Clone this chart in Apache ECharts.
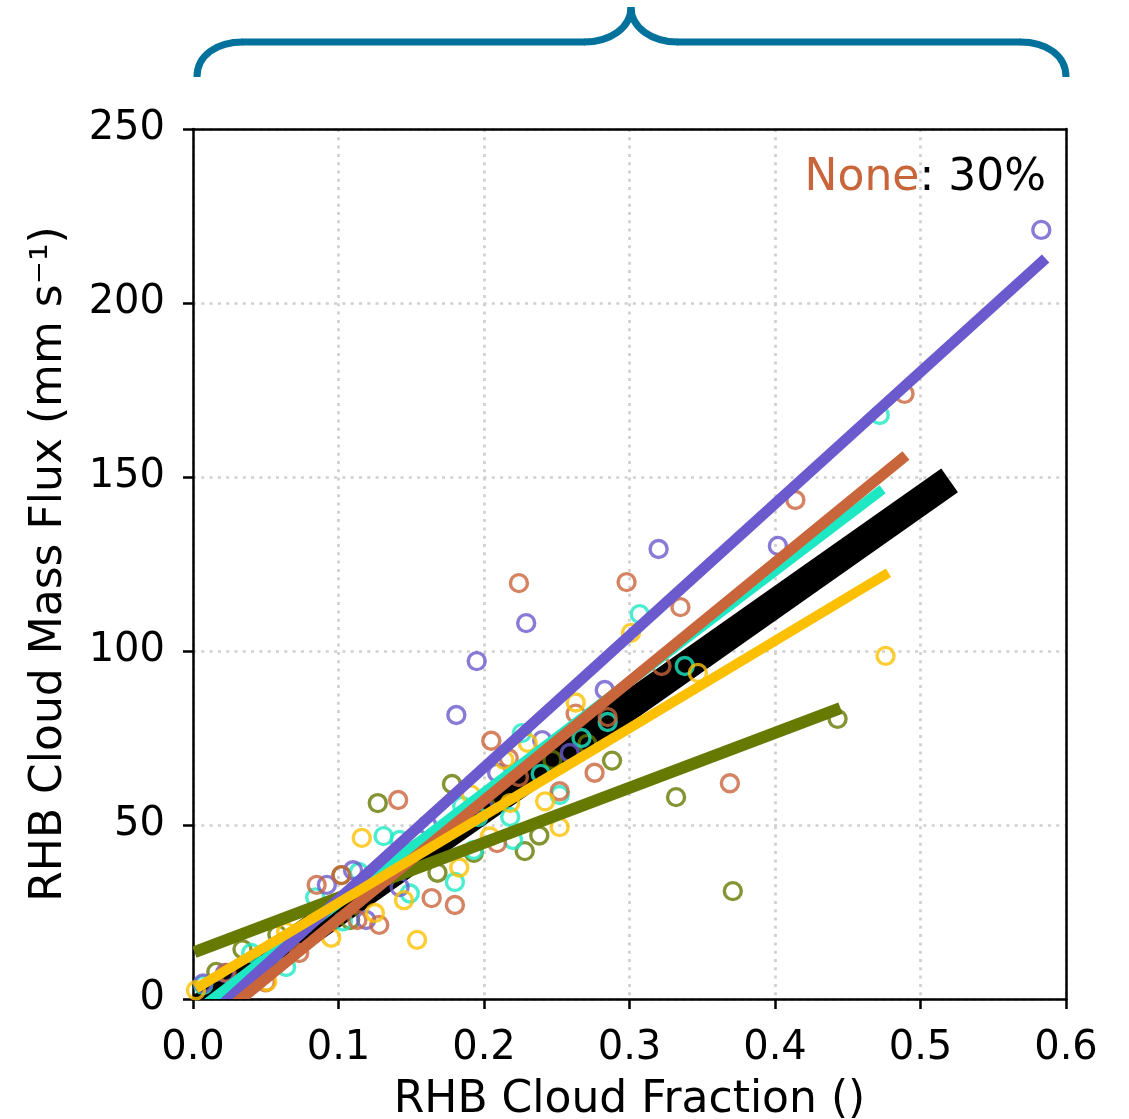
<!DOCTYPE html>
<html>
<head>
<meta charset="utf-8">
<title>RHB Cloud Mass Flux vs Cloud Fraction</title>
<script src="https://cdn.jsdelivr.net/npm/echarts@6/dist/echarts.min.js"></script>
<style>
  html, body { margin: 0; padding: 0; background: #ffffff; }
  #chart { width: 1129px; height: 1119px; }
</style>
</head>
<body>
<div id="chart"></div>
<script>
// Axis ticks
const fractionTicks = [0.0, 0.1, 0.2, 0.3, 0.4, 0.5, 0.6];
const fluxTicks = [0, 50, 100, 150, 200, 250];

// Samples per group: [cloud fraction, cloud mass flux (mm s^-1)]
const violetPoints = [
  [0.007, 4.5], [0.022, 7.5], [0.092, 32.8], [0.110, 37.0], [0.119, 22.7],
  [0.142, 32.2], [0.161, 50.0], [0.181, 81.6], [0.195, 97.1], [0.200, 55.0],
  [0.209, 65.0], [0.229, 108.0], [0.240, 74.4], [0.259, 70.7], [0.283, 88.8],
  [0.320, 129.3], [0.402, 130.2], [0.583, 221.0]
];
const rustPoints = [
  [0.023, 7.5], [0.050, 4.8], [0.073, 13.2], [0.085, 32.8], [0.102, 35.6],
  [0.113, 22.7], [0.128, 21.3], [0.141, 57.2], [0.164, 29.0], [0.180, 27.0],
  [0.205, 74.2], [0.209, 44.8], [0.217, 69.2], [0.224, 119.5], [0.224, 63.8],
  [0.252, 59.7], [0.263, 82.0], [0.276, 65.0], [0.285, 81.0], [0.298, 119.8],
  [0.322, 95.7], [0.335, 112.6], [0.369, 62.0], [0.414, 143.4], [0.489, 173.9]
];
const aquaPoints = [
  [0.007, 4.0], [0.040, 13.2], [0.064, 9.2], [0.084, 29.2], [0.103, 22.3],
  [0.114, 36.5], [0.131, 46.8], [0.142, 45.7], [0.149, 30.3], [0.180, 33.6],
  [0.185, 55.5], [0.193, 42.8], [0.196, 52.3], [0.218, 52.3], [0.220, 45.7],
  [0.226, 76.4], [0.239, 64.7], [0.252, 58.6], [0.267, 75.0], [0.285, 79.6],
  [0.307, 110.6], [0.338, 95.7], [0.472, 167.8]
];
const amberPoints = [
  [0.002, 2.5], [0.051, 5.0], [0.064, 19.3], [0.095, 17.6], [0.116, 46.3],
  [0.125, 24.7], [0.145, 28.4], [0.154, 17.0], [0.183, 37.8], [0.191, 58.8],
  [0.204, 46.7], [0.214, 68.7], [0.218, 56.3], [0.230, 73.6], [0.242, 56.8],
  [0.252, 49.4], [0.263, 85.2], [0.301, 105.2], [0.347, 93.7], [0.476, 98.6]
];
const olivePoints = [
  [0.016, 7.8], [0.034, 14.3], [0.058, 18.5], [0.102, 35.6], [0.108, 22.7],
  [0.127, 56.3], [0.168, 36.3], [0.178, 61.8], [0.193, 42.0], [0.202, 55.0],
  [0.228, 42.5], [0.238, 47.0], [0.247, 68.7], [0.271, 73.3], [0.288, 68.5],
  [0.332, 58.0], [0.371, 31.0], [0.443, 80.5]
];

// Linear fit segments: [start, end]
const allFit = [[0.000, -4.0], [0.520, 149.0]];
const oliveFit = [[0.001, 13.5], [0.445, 83.6]];
const aquaFit = [[0.007, -2.0], [0.474, 146.5]];
const violetFit = [[0.007, -6.6], [0.586, 212.8]];
const rustFit = [[0.023, -3.4], [0.490, 156.2]];
const amberFit = [[0.002, 3.0], [0.478, 122.5]];

const COLORS = {
  violet: '#6a5acd',
  rust: '#c9653b',
  aqua: '#1ee8c4',
  amber: '#fcc000',
  olive: '#667900',
  all: '#000000',
  brace: '#02719c',
  grid: '#d0d0d0'
};

const FONT = '"DejaVu Sans", "Noto Sans", sans-serif';

function scatter(name, data, color) {
  return {
    type: 'scatter',
    name: name,
    data: data,
    symbol: 'circle',
    symbolSize: 17,
    z: 3,
    silent: true,
    itemStyle: { color: 'rgba(0,0,0,0)', borderColor: color, borderWidth: 3.4 }
  };
}

// Thick fit segment, clipped tightly to the plotting area
function fitLine(name, seg, color, width, z) {
  return {
    type: 'custom',
    name: name,
    z: z,
    silent: true,
    clip: true,
    data: [[seg[0][0], seg[0][1], seg[1][0], seg[1][1]]],
    encode: { x: [0, 2], y: [1, 3] },
    renderItem: function (params, api) {
      const a = api.coord([api.value(0), api.value(1)]);
      const b = api.coord([api.value(2), api.value(3)]);
      return {
        type: 'line',
        shape: { x1: a[0], y1: a[1], x2: b[0], y2: b[1] },
        style: { stroke: color, lineWidth: width, lineCap: 'butt', fill: null }
      };
    }
  };
}

// Curly brace above the panel, built from curve and straight pieces
const braceStyle = { fill: null, stroke: COLORS.brace, lineWidth: 7, lineCap: 'butt' };
function braceCurve(x1, y1, cx1, cy1, cx2, cy2, x2, y2) {
  return {
    type: 'bezierCurve', silent: true,
    shape: { x1: x1, y1: y1, cpx1: cx1, cpy1: cy1, cpx2: cx2, cpy2: cy2, x2: x2, y2: y2 },
    style: braceStyle
  };
}
function braceLine(x1, y1, x2, y2) {
  return { type: 'line', silent: true, shape: { x1: x1, y1: y1, x2: x2, y2: y2 }, style: braceStyle };
}

const axisLineStyle = { color: '#000', width: 2.5 };
const gridLineStyle = { color: COLORS.grid, width: 2.7, type: [3, 5.3] };

// Plain frame edges on the top and right sides
function frameAxis(position) {
  return {
    type: 'value',
    position: position,
    min: position === 'top' ? fractionTicks[0] : fluxTicks[0],
    max: position === 'top' ? fractionTicks[fractionTicks.length - 1] : fluxTicks[fluxTicks.length - 1],
    z: 6,
    axisLine: { show: true, onZero: false, lineStyle: axisLineStyle },
    axisTick: { show: false },
    axisLabel: { show: false },
    splitLine: { show: false }
  };
}

const chart = echarts.init(document.getElementById('chart'), null, { renderer: 'canvas' });

chart.setOption({
  animation: false,
  backgroundColor: '#ffffff',
  grid: {
    left: 193, right: 63, top: 129, bottom: 120,
    show: false, containLabel: false, outerBoundsMode: 'none'
  },
  xAxis: [
    {
      type: 'value',
      position: 'bottom',
      min: fractionTicks[0],
      max: fractionTicks[fractionTicks.length - 1],
      interval: 0.1,
      name: 'RHB Cloud Fraction ()',
      nameLocation: 'middle',
      nameGap: 80,
      nameTextStyle: { fontFamily: FONT, fontSize: 44, color: '#000', lineHeight: 44 },
      axisLine: { show: true, onZero: false, lineStyle: axisLineStyle },
      axisTick: { show: true, inside: false, length: 10, lineStyle: axisLineStyle },
      axisLabel: {
        margin: 30, fontFamily: FONT, fontSize: 40, color: '#000', lineHeight: 40,
        formatter: v => v.toFixed(1)
      },
      splitLine: { show: true, lineStyle: gridLineStyle }
    },
    frameAxis('top')
  ],
  yAxis: [
    {
      type: 'value',
      position: 'left',
      min: fluxTicks[0],
      max: fluxTicks[fluxTicks.length - 1],
      interval: 50,
      name: 'RHB Cloud Mass Flux (mm s\u207B\u00B9)',
      nameLocation: 'middle',
      nameGap: 121,
      nameTextStyle: { fontFamily: FONT, fontSize: 44, color: '#000', lineHeight: 44 },
      axisLine: { show: true, onZero: false, lineStyle: axisLineStyle },
      axisTick: { show: true, inside: false, length: 10, lineStyle: axisLineStyle },
      axisLabel: { margin: 28, fontFamily: FONT, fontSize: 40, color: '#000' },
      splitLine: { show: true, lineStyle: gridLineStyle }
    },
    frameAxis('right')
  ],
  series: [
    fitLine('all', allFit, COLORS.all, 29, 2),
    scatter('olive', olivePoints, COLORS.olive),
    scatter('aqua', aquaPoints, COLORS.aqua),
    scatter('violet', violetPoints, COLORS.violet),
    scatter('rust', rustPoints, COLORS.rust),
    scatter('amber', amberPoints, COLORS.amber),
    fitLine('olive fit', oliveFit, COLORS.olive, 12, 4),
    fitLine('aqua fit', aquaFit, COLORS.aqua, 10, 4),
    fitLine('violet fit', violetFit, COLORS.violet, 11, 4),
    fitLine('rust fit', rustFit, COLORS.rust, 11, 4),
    fitLine('amber fit', amberFit, COLORS.amber, 10, 4)
  ],
  graphic: [
    braceCurve(197, 77, 197, 55, 217, 42, 243, 42),
    braceLine(242, 42, 585, 42),
    braceCurve(584, 42, 610, 42, 631, 28, 631, 7),
    braceCurve(631, 7, 631, 28, 652, 42, 678, 42),
    braceLine(677, 42, 1021, 42),
    braceCurve(1020, 42, 1046, 42, 1066, 55, 1066, 77),
    {
      type: 'text',
      silent: true,
      right: 1129 - 1046,
      top: 157,
      style: {
        text: '{n|None}{p|: 30%}',
        fontFamily: FONT,
        rich: {
          n: { fontFamily: FONT, fontSize: 44, fill: COLORS.rust, color: COLORS.rust },
          p: { fontFamily: FONT, fontSize: 44, fill: '#000', color: '#000' }
        }
      }
    }
  ]
});
</script>
</body>
</html>
